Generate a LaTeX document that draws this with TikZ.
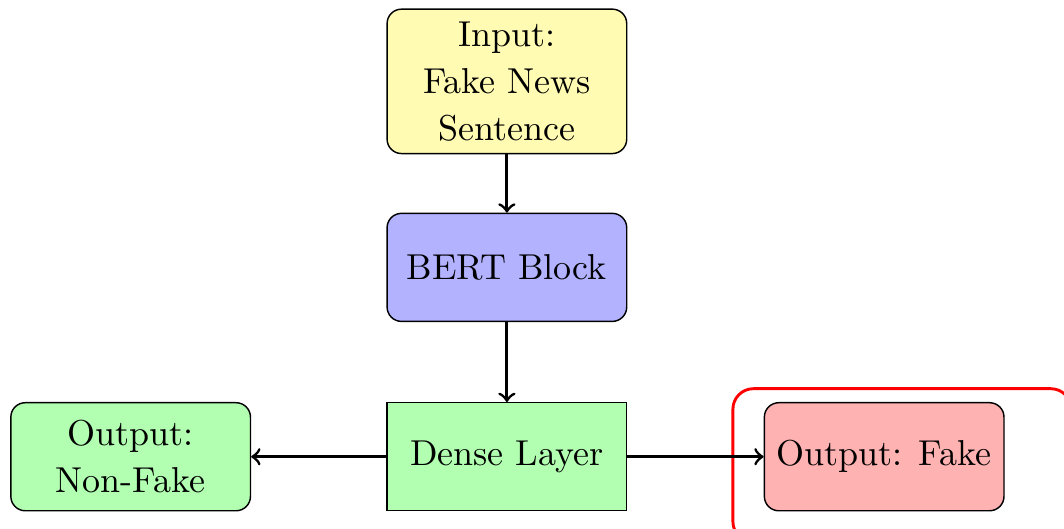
\documentclass[tikz,border=0pt]{standalone}
\usepackage{tikz}
\usepackage{xcolor}
\usetikzlibrary{shapes.geometric, positioning, arrows}

\begin{document}
\begin{tikzpicture}[
    roundbox/.style={draw, rounded corners, minimum width=2.34cm, minimum height=1.055cm, align=center},
    squarebox/.style={draw, minimum width=2.34cm, minimum height=1.055cm, align=center},
    arrow/.style={->, thick}
  ]
    \useasboundingbox (-4.95,-0.70) rectangle (5.44,4.46);
    \clip (-4.95,-0.70) rectangle (5.44,4.46);
    %
    \node[squarebox, fill=green!30] (dense) at (0,0) {Dense Layer};
    \node[roundbox, fill=blue!30, above=0.78cm of dense] (bert) {BERT Block};
    \node[roundbox, fill=yellow!30, minimum height=1.41cm, font=\fontsize{10}{13}\selectfont, above=0.57cm of bert] (input) {Input:\\Fake News\\Sentence};
    \node[roundbox, fill=green!30, font=\fontsize{10}{13}\selectfont, left=1.32cm of dense] (nonfake) {Output:\\Non-Fake};
    \node[roundbox, fill=red!30, right=1.33cm of dense] (fake) {Output: Fake};
    %
    \draw[red, thick, rounded corners=2mm] ([xshift=-0.3cm, yshift=0.13cm]fake.north west) rectangle ([xshift=0.65cm, yshift=-0.3cm]fake.south east);
    %
    \draw[arrow] (input) -- (bert);
    \draw[arrow] (bert) -- (dense);
    \draw[arrow] (dense) -- (nonfake);
    \draw[arrow] (dense) -- (fake);
  \end{tikzpicture}
\end{document}
